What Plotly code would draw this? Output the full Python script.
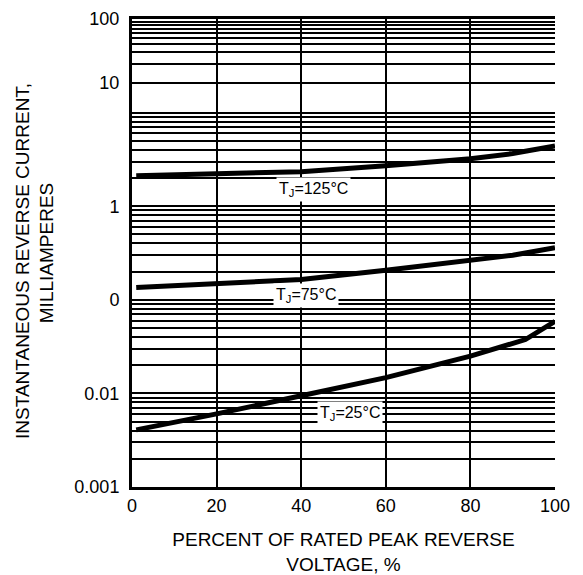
import numpy as np
import plotly.graph_objects as go

# ---- data ----
pct = [1, 20, 40, 60, 80, 90, 100]
i_125 = [2.12, 2.22, 2.34, 2.71, 3.22, 3.65, 4.41]
i_75 = [0.135, 0.147, 0.165, 0.207, 0.260, 0.299, 0.360]
pct_25 = [1, 20, 40, 60, 80, 93, 100]
i_25 = [0.00408, 0.00604, 0.00944, 0.01473, 0.0250, 0.0376, 0.0588]

x_ticks = [0, 20, 40, 60, 80, 100]
y_major_labels = ["100", "10", "1", "0", "0.01", "0.001"]
curve_labels = ["T<sub>J</sub>=125°C", "T<sub>J</sub>=75°C", "T<sub>J</sub>=25°C"]
label_x = [42.8, 41.1, 51.5]
label_y = [1.51, 0.111, 0.00608]

# top decade of the printed grid is compressed (as in the reference)
TOP_COMPRESS = 64 / 93.6

def top_decade(v):
    return 10 ** (2 - (2 - np.log10(v)) * TOP_COMPRESS)

y_major_vals = [100, top_decade(10), 1, 0.1, 0.01, 0.001]
minor_vals = []
for m in range(2, 10):
    minor_vals.append(top_decade(10 * m))
for dec in [1, 0.1, 0.01, 0.001]:
    for m in range(2, 10):
        minor_vals.append(dec * m)
minor_vals.append(10)

FONT = "Arial, Liberation Sans, sans-serif"
PAD = "\u00a0" * 3

fig = go.Figure()
for xs, ys in [(pct, i_125), (pct, i_75), (pct_25, i_25)]:
    fig.add_trace(go.Scatter(x=xs, y=ys, mode="lines",
                             line=dict(color="black", width=5),
                             showlegend=False, hoverinfo="skip"))

for txt, lx, ly in zip(curve_labels, label_x, label_y):
    fig.add_annotation(x=lx, y=np.log10(ly), text=txt, showarrow=False,
                       font=dict(family=FONT, size=16, color="black"),
                       bgcolor="white", borderpad=2)

fig.update_layout(
    width=575, height=567,
    margin=dict(l=124, r=28, t=11, b=88),
    paper_bgcolor="white", plot_bgcolor="white",
    font=dict(family=FONT, color="black"),
)
fig.update_xaxes(
    range=[0, 100], tickvals=x_ticks, ticktext=[str(v) for v in x_ticks],
    showgrid=True, gridcolor="black", gridwidth=1.8,
    showline=True, linecolor="black", linewidth=3, mirror=True,
    ticks="", tickfont=dict(size=18), zeroline=False, automargin=False,
    ticklabeloverflow="allow",
    title=dict(text="PERCENT OF RATED PEAK REVERSE<br>VOLTAGE, %",
               font=dict(size=19), standoff=21),
)
fig.update_yaxes(
    type="log", range=[-3, 2],
    tickvals=y_major_vals, ticktext=y_major_labels,
    showgrid=True, gridcolor="black", gridwidth=2.2,
    minor=dict(tickvals=minor_vals, showgrid=True, gridcolor="black", gridwidth=1.5, ticklen=0),
    showline=True, linecolor="black", linewidth=3,
    ticks="", tickfont=dict(size=18), ticklabelstandoff=6, automargin=False,
    ticklabeloverflow="allow",
    title=dict(text="INSTANTANEOUS REVERSE CURRENT," + PAD + "<br>MILLIAMPERES" + PAD,
               font=dict(size=19), standoff=16),
)

fig.write_html("out.html")
